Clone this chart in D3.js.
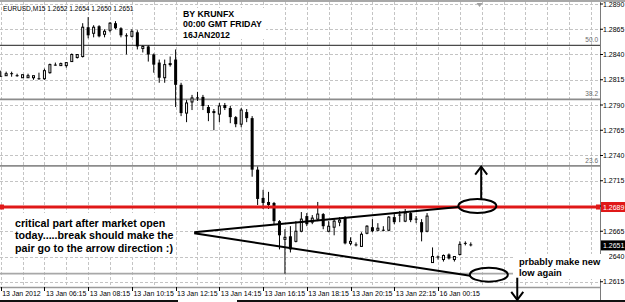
<!DOCTYPE html>
<html lang="en">
<head>
<meta charset="UTF-8">
<script src="https://d3js.org/d3.v7.min.js"></script>
<title>EURUSD M15</title>
<style>
  body { margin: 0; background: #fff; }
  svg { display: block; }
</style>
</head>
<body>
<svg id="chart" width="625" height="302"></svg>
<script>
// M15 bars, 13 Jan 04:15 onwards (index 79 = 16 Jan 00:00)
const opens  = [1.2819,1.2819,1.2821,1.2819,1.2817,1.2817,1.2817,1.2816,1.2816,1.2822,
                1.2830,1.2829,1.2829,1.2833,1.2837,1.2838,1.2867,1.2861,1.2868,1.2860,
                1.2864,1.2871,1.2866,1.2859,1.2858,1.2862,1.2846,1.2848,1.2840,1.2832,
                1.2817,1.2830,1.2835,1.2810,1.2782,1.2793,1.2797,1.2798,1.2788,1.2784,
                1.2781,1.2790,1.2787,1.2778,1.2771,1.2783,1.2777,1.2726,1.2698,1.2694,
                1.2693,1.2675,1.2657,1.2660,1.2655,1.2665,1.2680,1.2674,1.2677,1.2682,
                1.2665,1.2669,1.2674,1.2679,1.2653,1.2652,1.2650,1.2663,1.2669,1.2666,
                1.2666,1.2666,1.2679,1.2681,1.2675,1.2683,1.2677,1.2674,1.2665,1.2634,
                1.2640,1.2637,1.2642,1.2637,1.2642,1.2653,1.2652];
const highs  = [1.2824,1.2823,1.2823,1.2821,1.2820,1.2821,1.2819,1.2822,1.2826,1.2831,
                1.2832,1.2832,1.2832,1.2841,1.2840,1.2871,1.2877,1.2869,1.2869,1.2865,
                1.2872,1.2873,1.2867,1.2861,1.2865,1.2864,1.2849,1.2849,1.2841,1.2835,
                1.2835,1.2838,1.2845,1.2812,1.2795,1.2800,1.2803,1.2800,1.2790,1.2786,
                1.2792,1.2792,1.2789,1.2779,1.2787,1.2786,1.2779,1.2729,1.2706,1.2704,
                1.2694,1.2676,1.2667,1.2670,1.2675,1.2684,1.2683,1.2681,1.2694,1.2683,
                1.2675,1.2677,1.2679,1.2680,1.2659,1.2654,1.2664,1.2671,1.2677,1.2673,
                1.2670,1.2680,1.2682,1.2685,1.2687,1.2685,1.2680,1.2677,1.2683,1.2649,
                1.2641,1.2642,1.2643,1.2640,1.2655,1.2655,1.2654];
const lows   = [1.2818,1.2819,1.2818,1.2818,1.2817,1.2817,1.2815,1.2815,1.2815,1.2821,
                1.2829,1.2829,1.2827,1.2833,1.2836,1.2837,1.2856,1.2857,1.2857,1.2857,
                1.2862,1.2865,1.2857,1.2840,1.2857,1.2845,1.2842,1.2833,1.2822,1.2812,
                1.2812,1.2828,1.2788,1.2779,1.2773,1.2785,1.2794,1.2785,1.2774,1.2765,
                1.2773,1.2785,1.2772,1.2768,1.2768,1.2773,1.2719,1.2691,1.2687,1.2687,
                1.2672,1.2647,1.2623,1.2644,1.2654,1.2664,1.2670,1.2672,1.2675,1.2667,
                1.2664,1.2661,1.2670,1.2652,1.2651,1.2650,1.2650,1.2662,1.2664,1.2665,
                1.2665,1.2665,1.2672,1.2674,1.2674,1.2674,1.2673,1.2655,1.2664,1.2634,
                1.2637,1.2635,1.2637,1.2635,1.2641,1.2651,1.2650];
const closes = [1.2818,1.2821,1.2821,1.2819,1.2820,1.2819,1.2819,1.2816,1.2824,1.2830,
                1.2829,1.2831,1.2832,1.2840,1.2840,1.2867,1.2859,1.2867,1.2858,1.2863,
                1.2871,1.2866,1.2859,1.2858,1.2863,1.2848,1.2848,1.2840,1.2830,1.2817,
                1.2830,1.2831,1.2810,1.2782,1.2792,1.2797,1.2797,1.2789,1.2782,1.2782,
                1.2789,1.2787,1.2778,1.2771,1.2785,1.2777,1.2726,1.2697,1.2693,1.2691,
                1.2675,1.2661,1.2659,1.2647,1.2665,1.2677,1.2672,1.2678,1.2682,1.2670,
                1.2670,1.2675,1.2676,1.2653,1.2655,1.2651,1.2662,1.2670,1.2665,1.2668,
                1.2666,1.2679,1.2674,1.2681,1.2683,1.2676,1.2677,1.2664,1.2680,1.2640,
                1.2639,1.2641,1.2638,1.2640,1.2652,1.2653,1.2651];

const timeLabels = ["13 Jan 2012","13 Jan 06:15","13 Jan 08:15","13 Jan 10:15","13 Jan 12:15",
                    "13 Jan 14:15","13 Jan 16:15","13 Jan 18:15","13 Jan 20:15","13 Jan 22:15","16 Jan 00:15"];
const timeLabelBars = [0, 8, 16, 24, 32, 40, 48, 56, 64, 72, 80];
const priceTicks = [1.2890,1.2865,1.2840,1.2815,1.2790,1.2765,1.2740,1.2715,1.2690,1.2665,1.2640,1.2615];

// fibonacci retracement drawn on the chart
const fibLow = 1.2623, fibHigh = 1.3075;
const fibLevels = [0, 23.6, 38.2, 50.0];
const hLinePrice = 1.2689;

// hand drawn marks, [bar, price]
const upperLine = [[35.4, 1.2664], [83.8, 1.2689]];
const lowerLine = [[35.4, 1.2663], [85.9, 1.2621]];
const ellipses = [[87.2, 1.2690], [89.3, 1.2622]];
const upArrow = [[87.9, 1.2697], [87.9, 1.2729]];
const downArrow = [[94.5, 1.2619], [94.5, 1.2597]];

const noteLeft = ["critical part after market open", "today.....break should make the", "pair go to the arrow direction :)"];
const noteRight = ["prbably make new", "low again"];
const noteTop = ["BY KRUNFX", "00:00 GMT FRIDAY", "16JAN2012"];

const svg = d3.select("#chart");
const plotRight = 600, plotBottom = 287;

const x = d3.scaleLinear().domain([0, 80]).range([0.7, 438]);
const y = d3.scaleLinear().domain([1.2615, 1.2890]).range([281.75, 4]);

svg.append("rect").attr("width", 625).attr("height", 302).attr("fill", "#fff");

// grid
const grid = svg.append("g");
grid.selectAll(".vg")
    .data(d3.range(0, 120, 4).filter(i => x(i) < plotRight))
    .enter().append("line")
    .attr("x1", d => Math.round(x(d)) + 0.5).attr("x2", d => Math.round(x(d)) + 0.5)
    .attr("y1", 2).attr("y2", plotBottom)
    .attr("stroke", "#c4c4c4").attr("stroke-dasharray", "3,2");
grid.selectAll(".hg")
    .data(priceTicks)
    .enter().append("line")
    .attr("x1", 0).attr("x2", plotRight)
    .attr("y1", d => Math.round(y(d)) + 0.5).attr("y2", d => Math.round(y(d)) + 0.5)
    .attr("stroke", "#c4c4c4").attr("stroke-dasharray", "3,2");

// fibonacci levels
const fibPrice = p => fibLow + (fibHigh - fibLow) * p / 100;
svg.append("g").selectAll("line")
    .data(fibLevels)
    .enter().append("line")
    .attr("x1", 0).attr("x2", plotRight)
    .attr("y1", d => y(fibPrice(d))).attr("y2", d => y(fibPrice(d)))
    .attr("stroke", d => d === 50 ? "#4a4a4a" : (d === 0 ? "#a8a8a8" : "#8c8c8c"))
    .attr("stroke-width", d => d === 50 ? 1.3 : 1.8);
svg.append("g").selectAll("text")
    .data(fibLevels.filter(d => d > 0))
    .enter().append("text")
    .attr("x", 598).attr("y", d => y(fibPrice(d)) - 3)
    .attr("text-anchor", "end")
    .attr("font-family", "Liberation Sans").attr("font-size", 6.5)
    .attr("fill", "#6a6a6a")
    .text(d => d.toFixed(1));

// candles
const bars = opens.map((o, i) => ({ i, o, h: highs[i], l: lows[i], c: closes[i] }));
const gBars = svg.append("g");
gBars.selectAll(".wick")
    .data(bars)
    .enter().append("line")
    .attr("x1", d => x(d.i)).attr("x2", d => x(d.i))
    .attr("y1", d => y(d.h)).attr("y2", d => y(d.l))
    .attr("stroke", "#000").attr("stroke-width", 1);
gBars.selectAll(".body")
    .data(bars.filter(d => d.o !== d.c))
    .enter().append("rect")
    .attr("x", d => d.c > d.o ? x(d.i) - 1 : x(d.i) - 1.5)
    .attr("width", d => d.c > d.o ? 2 : 3)
    .attr("y", d => y(Math.max(d.o, d.c)))
    .attr("height", d => Math.max(1, Math.abs(y(d.o) - y(d.c))))
    .attr("fill", d => d.c > d.o ? "#fff" : "#000")
    .attr("stroke", d => d.c > d.o ? "#000" : "none")
    .attr("stroke-width", 1);
gBars.selectAll(".doji")
    .data(bars.filter(d => d.o === d.c))
    .enter().append("line")
    .attr("x1", d => x(d.i) - 1.5).attr("x2", d => x(d.i) + 1.5)
    .attr("y1", d => y(d.o)).attr("y2", d => y(d.o))
    .attr("stroke", "#000");

// red horizontal line
svg.append("line")
    .attr("x1", 0).attr("x2", plotRight)
    .attr("y1", y(hLinePrice)).attr("y2", y(hLinePrice))
    .attr("stroke", "#e01818").attr("stroke-width", 3);
svg.selectAll(".hsq")
    .data([0, plotRight - 4])
    .enter().append("rect")
    .attr("x", d => d).attr("y", y(hLinePrice) - 2.5)
    .attr("width", 4).attr("height", 5)
    .attr("fill", "#e01818");

// chart shift marker
svg.append("path")
    .attr("d", `M${x(87.6) - 3},3 L${x(87.6) + 3},3 L${x(87.6)},7 Z`)
    .attr("fill", "#a0a0a0");

// hand drawn triangle, ellipses and arrows
const pt = d => [x(d[0]), y(d[1])];
const marks = svg.append("g").attr("fill", "none").attr("stroke", "#000").attr("stroke-width", 2);
[upperLine, lowerLine].forEach(l => {
    marks.append("path").attr("d", d3.line()(l.map(pt)));
});
ellipses.forEach(e => {
    marks.append("ellipse")
        .attr("cx", x(e[0])).attr("cy", y(e[1]))
        .attr("rx", 19).attr("ry", 7);
});

// price axis
svg.append("line").attr("x1", plotRight + 0.5).attr("x2", plotRight + 0.5).attr("y1", 0).attr("y2", 300)
    .attr("stroke", "#7a7a7a");
const yAx = svg.append("g").attr("font-family", "Liberation Sans").attr("font-size", 7);
yAx.selectAll("line").data(priceTicks).enter().append("line")
    .attr("x1", plotRight).attr("x2", plotRight + 3)
    .attr("y1", d => y(d)).attr("y2", d => y(d)).attr("stroke", "#000");
yAx.selectAll("text").data(priceTicks).enter().append("text")
    .attr("x", 603).attr("y", d => y(d) + 2.5)
    .text(d => d.toFixed(4));

const lastBar = bars[bars.length - 1];
[[hLinePrice, "#e01818"], [lastBar.c, "#000"]].forEach(([p, col]) => {
    yAx.append("rect").attr("x", 601).attr("y", y(p) - 5).attr("width", 24).attr("height", 10).attr("fill", col);
    yAx.append("text").attr("x", 603).attr("y", y(p) + 2.5).attr("fill", "#fff").text(p.toFixed(4));
});

// white note boxes pasted over the chart
const boxes = svg.append("g").attr("fill", "#fff");
boxes.append("rect").attr("x", 179).attr("y", 8).attr("width", 87).attr("height", 31);
boxes.append("rect").attr("x", 13).attr("y", 213).attr("width", 163).attr("height", 42);
boxes.append("rect").attr("x", 513).attr("y", 254).attr("width", 96).attr("height", 25);

const notes = svg.append("g").attr("font-family", "Liberation Sans").attr("font-weight", "bold").attr("fill", "#000");
noteTop.forEach((t, k) => {
    notes.append("text").attr("x", 183).attr("y", 17 + k * 10.3)
        .attr("font-size", 8.8).text(t);
});
noteLeft.forEach((t, k) => {
    notes.append("text").attr("x", 15).attr("y", 226.5 + k * 12.6)
        .attr("font-size", 10.7).text(t);
});
noteRight.forEach((t, k) => {
    notes.append("text").attr("x", 519).attr("y", 264.5 + k * 11.5)
        .attr("font-size", 9.4).text(t);
});

marks.raise();
[upArrow, downArrow].forEach(a => {
    const p0 = pt(a[0]), p1 = pt(a[1]);
    const dir = p1[1] < p0[1] ? 1 : -1;
    marks.append("path").attr("d", d3.line()([p0, p1]));
    marks.append("path").attr("d", d3.line()([[p1[0] - 6, p1[1] + dir * 8], p1, [p1[0] + 6, p1[1] + dir * 8]]));
});

// time axis
svg.append("line").attr("x1", 0).attr("x2", plotRight).attr("y1", plotBottom + 0.5).attr("y2", plotBottom + 0.5)
    .attr("stroke", "#9a9a9a").attr("stroke-width", 1.5);
const xAx = svg.append("g").attr("font-family", "Liberation Sans").attr("font-size", 7);
xAx.selectAll("line").data(timeLabelBars).enter().append("line")
    .attr("x1", d => Math.round(x(d)) + 0.5).attr("x2", d => Math.round(x(d)) + 0.5)
    .attr("y1", plotBottom).attr("y2", plotBottom + 4).attr("stroke", "#000");
xAx.selectAll("text").data(timeLabelBars).enter().append("text")
    .attr("x", d => x(d) + 1.5).attr("y", 296)
    .text((d, k) => timeLabels[k]);

// header
svg.append("rect").attr("x", 0).attr("y", 0).attr("width", 625).attr("height", 2).attr("fill", "#a8a8a8");
svg.append("text").attr("x", 3).attr("y", 11)
    .attr("font-family", "Liberation Sans").attr("font-size", 6.6)
    .text(`EURUSD,M15  ${lastBar.o.toFixed(4)} ${lastBar.h.toFixed(4)} ${lastBar.l.toFixed(4)} ${lastBar.c.toFixed(4)}`);

// bottom strip
svg.append("rect").attr("x", 0).attr("y", 300).attr("width", 625).attr("height", 2).attr("fill", "#111");
svg.append("rect").attr("x", 178).attr("y", 300).attr("width", 59).attr("height", 2).attr("fill", "#fff");
marks.raise();
</script>
</body>
</html>
